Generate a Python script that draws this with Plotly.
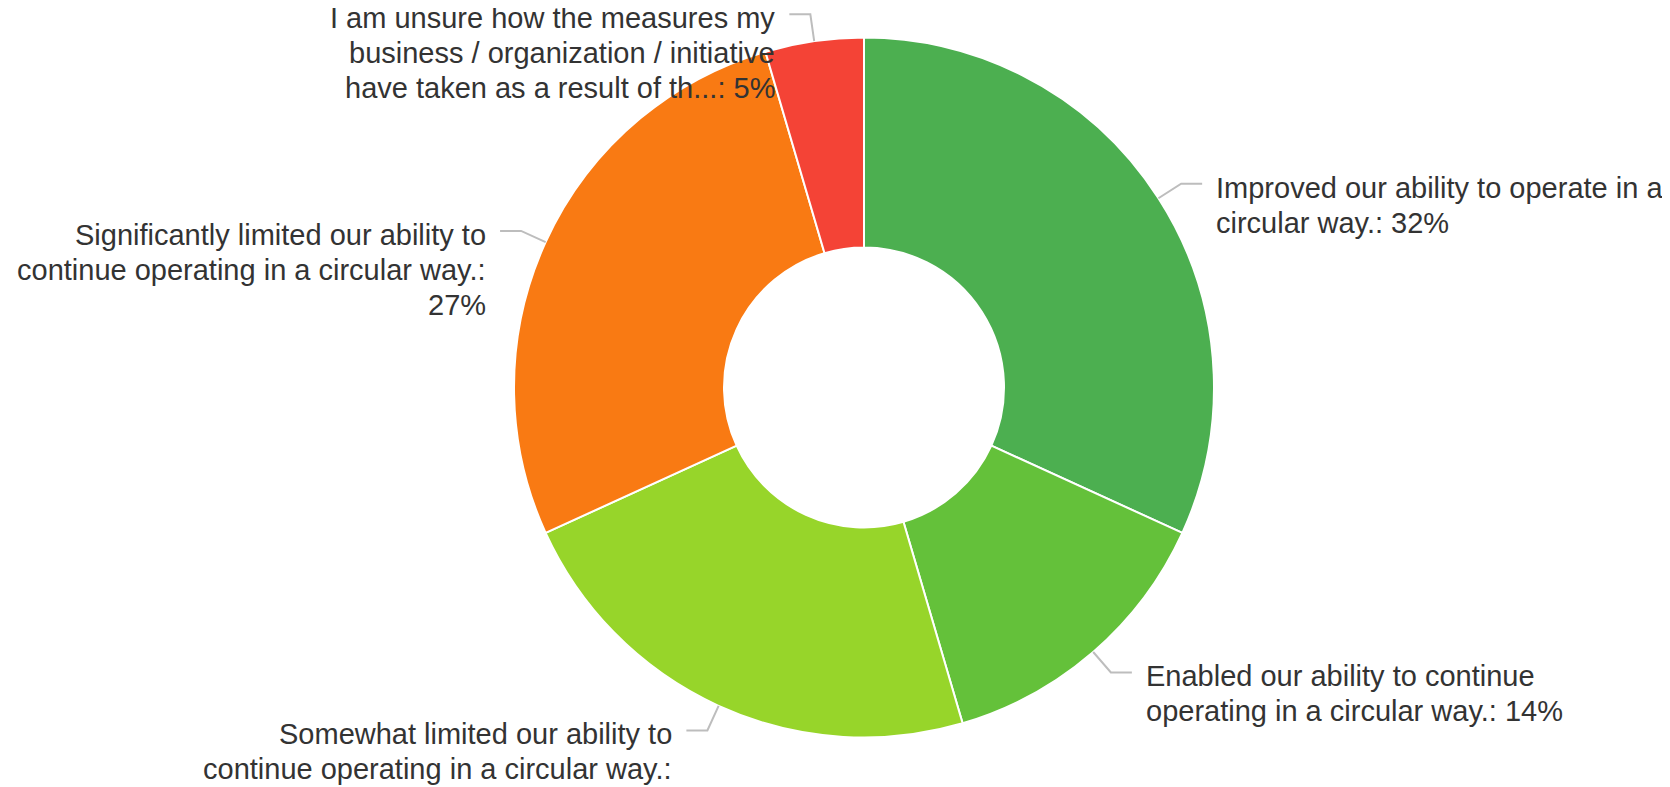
import math
import plotly.graph_objects as go

# ---- data ----
categories = [
    "Improved our ability to operate in a circular way.",
    "Enabled our ability to continue operating in a circular way.",
    "Somewhat limited our ability to continue operating in a circular way.",
    "Significantly limited our ability to continue operating in a circular way.",
    "I am unsure how the measures my business / organization / initiative have taken as a result of th...",
]
values = [7, 3, 5, 6, 1]
label_templates = [
    "Improved our ability to operate in a\ncircular way.: {p}%",
    "Enabled our ability to continue\noperating in a circular way.: {p}%",
    "Somewhat limited our ability to\ncontinue operating in a circular way.:\n{p}%",
    "Significantly limited our ability to\ncontinue operating in a circular way.:\n{p}%",
    "I am unsure how the measures my\nbusiness / organization / initiative\nhave taken as a result of th...: {p}%",
]
colors = ["#4CAF50", "#64C13A", "#97D52A", "#F97A13", "#F44336"]

# ---- layout constants (screen pixels) ----
W, H = 1670, 787
PAGE = 8  # default body margin of the html page
CX, CY, R = 864, 387.5, 350
HOLE = 0.4
FONT = dict(family="Liberation Sans, Arial, sans-serif", size=29, color="#333333")
LINE_H = 35
CONN_OUT = 27
CONN_H = 21
GAP = 12


def px(x):
    return (x - PAGE) / W


def py(y):
    return 1 - (y - PAGE) / H


fig = go.Figure(go.Pie(
    labels=categories,
    values=values,
    sort=False,
    direction="clockwise",
    rotation=0,
    hole=HOLE,
    textinfo="none",
    marker=dict(colors=colors, line=dict(color="white", width=2)),
    domain=dict(x=[px(CX - R), px(CX + R)],
                y=[py(CY + R), py(CY - R)]),
    showlegend=False,
    hoverinfo="label+percent",
))

total = sum(values)
cum = 0
annotations = []
shapes = []
for v, tmpl in zip(values, label_templates):
    mid = (cum + v / 2) / total
    cum += v
    th = 2 * math.pi * mid
    s, c = math.sin(th), math.cos(th)
    x0, y0 = CX + R * s, CY - R * c
    x1, y1 = CX + (R + CONN_OUT) * s, CY - (R + CONN_OUT) * c
    side = 1 if s > 0 else -1
    x2, y2 = x1 + side * CONN_H, y1
    shapes.append(dict(
        type="path", xref="paper", yref="paper",
        path=f"M {px(x0)} {py(y0)} L {px(x1)} {py(y1)} L {px(x2)} {py(y2)}",
        line=dict(color="#BDBDBD", width=2),
    ))
    pct = round(v / total * 100)
    lines = tmpl.format(p=pct).split("\n")
    tx = x2 + side * GAP
    for i, ln in enumerate(lines):
        yc = y1 + 4 + i * LINE_H
        annotations.append(dict(
            x=px(tx), y=py(yc), xref="paper", yref="paper",
            text=ln, showarrow=False,
            xanchor="left" if side > 0 else "right", yanchor="middle",
            font=FONT,
        ))

fig.update_layout(
    width=W, height=H,
    margin=dict(l=0, r=0, t=0, b=0),
    paper_bgcolor="white",
    plot_bgcolor="white",
    annotations=annotations,
    shapes=shapes,
)

fig.write_html("out.html")
